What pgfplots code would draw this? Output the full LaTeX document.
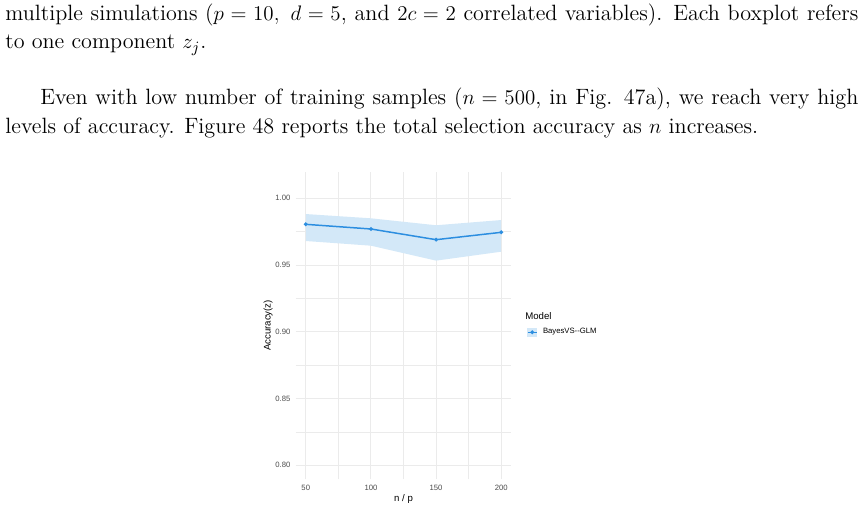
\documentclass[border=0pt]{standalone}
\usepackage{fontspec}
\newfontfamily\arial{Liberation Sans}
\usepackage{pgfplots}
\pgfplotsset{compat=1.18}
\newlength\U \setlength\U{0.5714pt}
\definecolor{lineblue}{HTML}{2C8EE0}
\definecolor{ribbon}{HTML}{D3E8F8}
\definecolor{gridc}{HTML}{EBEBEB}
\definecolor{ticktxt}{HTML}{4D4D4D}
\begin{document}
\begin{tikzpicture}
\fill[white] (0,0) rectangle ({862*\U},{-508*\U});
\useasboundingbox (0,0) rectangle ({862*\U},{-508*\U});
\begin{scope}[every node/.style={anchor=base west,inner sep=0pt,font=\fontsize{12.65}{14}\selectfont}]
\node at ({5*\U},{-20.5*\U}) {\makebox[853\U][s]{multiple simulations ($p = 10,\ d = 5$, and $2c = 2$ correlated variables). Each boxplot refers}};
\node at ({5*\U},{-49*\U}) {to one component $z_j$.};
\node at ({40*\U},{-105*\U}) {\makebox[818\U][s]{Even with low number of training samples ($n = 500$, in Fig. 47a), we reach very high}};
\node at ({5*\U},{-133.5*\U}) {levels of accuracy. Figure 48 reports the total selection accuracy as $n$ increases.};
\end{scope}
\begin{axis}[
  at={(169.13pt,-273.70pt)}, anchor=south west,
  scale only axis, width=122.85pt, height=175.42pt,
  xmin=42.5, xmax=207.5, ymin=0.7897, ymax=1.0197,
  axis line style={draw=none},
  major tick length=0pt, minor tick length=0pt,
  tick style={draw=none},
  xtick={50,100,150,200},
  ytick={0.8,0.85,0.9,0.95,1.0},
  minor xtick={75,125,175},
  minor ytick={0.825,0.875,0.925,0.975},
  grid=both,
  major grid style={gridc, line width=0.5pt},
  minor grid style={gridc, line width=0.4pt},
  /pgf/number format/assume math mode=true,
  yticklabel style={/pgf/number format/fixed, /pgf/number format/fixed zerofill, /pgf/number format/precision=2, xshift=0.3pt},
  xticklabel style={yshift=-0.1pt},
  tick label style={font=\arial\fontsize{4.4}{5}\selectfont, text=ticktxt},
  scaled y ticks=false,
  xlabel={n / p}, ylabel={Accuracy(z)},
  label style={font=\arial\fontsize{5.5}{6}\selectfont},
  xlabel style={at={(axis description cs:0.5,-0.065)}, anchor=center},
  ylabel style={at={(axis description cs:-0.130,0.5)}, anchor=center},
  legend style={at={(axis description cs:1.073,0.478)}, anchor=west, draw=none, fill=none, inner sep=0pt, column sep=3.2pt,
     nodes={inner sep=0pt, font=\arial\fontsize{4.4}{5}\selectfont}},
  legend image code/.code={
     \fill[ribbon] (0pt,-2.1pt) rectangle (5.1pt,2.1pt);
     \draw[lineblue, line width=0.8pt] (0pt,0pt) -- (5.1pt,0pt);
     \fill[lineblue] (2.55pt,0pt) circle (0.6pt);
  },
  clip=false,
]
\addplot[fill=ribbon, draw=none, forget plot] coordinates {
 (50,0.9882) (100,0.9850) (150,0.9798) (200,0.9837)
 (200,0.9600) (150,0.9533) (100,0.9645) (50,0.9680)
} -- cycle;
\addplot[lineblue, line width=0.85pt, mark=*, mark size=0.6pt] coordinates {
 (50,0.9805) (100,0.9770) (150,0.9690) (200,0.9745)
};
\addlegendentry{BayesVS--GLM}
\node[anchor=west, inner sep=0pt, font=\arial\fontsize{5.5}{6}\selectfont] at (axis description cs:1.065,0.53) {Model};
\end{axis}
\end{tikzpicture}
\end{document}
